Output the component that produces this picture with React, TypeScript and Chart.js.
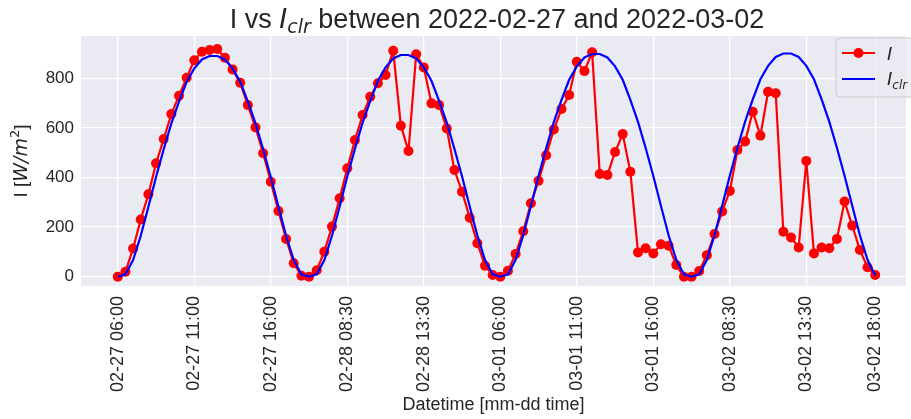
import React, { useEffect, useRef } from 'react';
import { Chart, registerables } from 'chart.js';
Chart.register(...registerables);

const W = 911;
const H = 419;

// Tick positions (sample index) and their labels
const tickIdx = [0, 10, 20, 30, 40, 50, 60, 70, 80, 90, 99];
const tickLabels = [
  '02-27 06:00', '02-27 11:00', '02-27 16:00', '02-28 08:30', '02-28 13:30',
  '03-01 06:00', '03-01 11:00', '03-01 16:00', '03-02 08:30', '03-02 13:30', '03-02 18:00',
];
const yTicks = [0, 200, 400, 600, 800];

// Measured irradiance I (W/m2), 30-min samples 06:00-18:00 each day
const measuredDay1 = [0, 20, 114, 231, 332, 457, 555, 656, 730, 802, 873, 907, 914, 918, 883, 836, 782, 692, 602, 498, 383, 265, 152, 54, 4];
const measuredDay2 = [0, 26, 101, 202, 316, 437, 551, 652, 726, 780, 813, 911, 609, 507, 897, 844, 699, 692, 598, 430, 343, 238, 135, 44, 7];
const measuredDay3 = [0, 24, 92, 183, 296, 387, 490, 594, 676, 733, 867, 829, 905, 414, 410, 503, 575, 423, 98, 115, 94, 131, 125, 47, 0];
const measuredDay4 = [0, 23, 87, 172, 263, 346, 511, 545, 665, 569, 746, 740, 181, 158, 118, 467, 94, 118, 115, 152, 303, 206, 108, 38, 7];

// Clear-sky irradiance I_clr (W/m2)
const clearDay1 = [0, 10, 67, 165, 282, 402, 514, 618, 706, 786, 840, 876, 890, 890, 876, 840, 786, 706, 618, 514, 402, 282, 165, 67, 10];
const clearDay2 = [0, 10, 67, 166, 283, 404, 516, 621, 709, 790, 844, 880, 894, 894, 880, 844, 790, 709, 621, 516, 404, 283, 166, 67, 10];
const clearDay3 = [0, 10, 68, 167, 285, 406, 519, 624, 713, 794, 848, 884, 898, 898, 884, 848, 794, 713, 624, 519, 406, 285, 167, 68, 10];
const clearDay4 = [0, 10, 68, 167, 286, 407, 520, 625, 715, 796, 850, 886, 900, 900, 886, 850, 796, 715, 625, 520, 407, 286, 167, 68, 5];

const measured = [...measuredDay1, ...measuredDay2, ...measuredDay3, ...measuredDay4];
const clearSky = [...clearDay1, ...clearDay2, ...clearDay3, ...clearDay4];

const SANS = '"Liberation Sans", Arial, sans-serif';
const MATH = '"DejaVu Sans", sans-serif';
const TEXT = '#262626';

type Seg = { t: string; f: string; dy?: number };

function richWidth(ctx: CanvasRenderingContext2D, segs: Seg[]) {
  let w = 0;
  for (const s of segs) {
    ctx.font = s.f;
    w += ctx.measureText(s.t).width;
  }
  return w;
}

function drawRich(ctx: CanvasRenderingContext2D, segs: Seg[], x: number, y: number, align: 'left' | 'center') {
  const w = richWidth(ctx, segs);
  let cx = align === 'center' ? x - w / 2 : x;
  ctx.textAlign = 'left';
  ctx.textBaseline = 'alphabetic';
  for (const s of segs) {
    ctx.font = s.f;
    ctx.fillText(s.t, cx, y + (s.dy || 0));
    cx += ctx.measureText(s.t).width;
  }
}

const decor = {
  id: 'decor',
  beforeDraw(chart: any) {
    const { ctx, chartArea } = chart;
    ctx.save();
    ctx.fillStyle = '#EAEAF2';
    ctx.fillRect(chartArea.left, chartArea.top, chartArea.right - chartArea.left, chartArea.bottom - chartArea.top);
    ctx.restore();
  },
  afterDraw(chart: any) {
    const { ctx, chartArea } = chart;
    const xs = chart.scales.x;
    ctx.save();
    ctx.fillStyle = TEXT;
    // Title
    const cx = xs.getPixelForValue(49.57);
    drawRich(ctx, [
      { t: 'I vs ', f: `27px ${SANS}` },
      { t: 'I', f: `italic 27px ${MATH}` },
      { t: 'clr', f: `italic 19px ${MATH}`, dy: 5 },
      { t: ' between 2022-02-27 and 2022-03-02', f: `27px ${SANS}` },
    ], cx, 28, 'center');

    // Y axis label
    ctx.save();
    ctx.translate(27, (chartArea.top + chartArea.bottom) / 2);
    ctx.rotate(-Math.PI / 2);
    drawRich(ctx, [
      { t: 'I [', f: `19px ${SANS}` },
      { t: 'W/m', f: `italic 19px ${MATH}` },
      { t: '2', f: `13px ${MATH}`, dy: -8 },
      { t: ']', f: `19px ${SANS}` },
    ], 0, 0, 'center');
    ctx.restore();

    // Legend
    const lx = 836, ly = 38, lw = 100, lh = 59;
    ctx.beginPath();
    const r = 4;
    ctx.moveTo(lx + r, ly);
    ctx.lineTo(lx + lw - r, ly);
    ctx.arcTo(lx + lw, ly, lx + lw, ly + r, r);
    ctx.lineTo(lx + lw, ly + lh - r);
    ctx.arcTo(lx + lw, ly + lh, lx + lw - r, ly + lh, r);
    ctx.lineTo(lx + r, ly + lh);
    ctx.arcTo(lx, ly + lh, lx, ly + lh - r, r);
    ctx.lineTo(lx, ly + r);
    ctx.arcTo(lx, ly, lx + r, ly, r);
    ctx.closePath();
    ctx.fillStyle = 'rgba(234,234,242,0.8)';
    ctx.fill();
    ctx.strokeStyle = '#CCCCCC';
    ctx.lineWidth = 1;
    ctx.stroke();

    // Item 1
    ctx.strokeStyle = '#FF0000';
    ctx.lineWidth = 2;
    ctx.beginPath();
    ctx.moveTo(842, 53);
    ctx.lineTo(875, 53);
    ctx.stroke();
    ctx.fillStyle = '#FF0000';
    ctx.beginPath();
    ctx.arc(858.5, 53, 5, 0, Math.PI * 2);
    ctx.fill();
    ctx.fillStyle = TEXT;
    drawRich(ctx, [{ t: 'I', f: `italic 18px ${MATH}` }], 887, 60, 'left');

    // Item 2
    ctx.strokeStyle = '#0000FF';
    ctx.beginPath();
    ctx.moveTo(842, 79);
    ctx.lineTo(875, 79);
    ctx.stroke();
    ctx.fillStyle = TEXT;
    drawRich(ctx, [
      { t: 'I', f: `italic 18px ${MATH}` },
      { t: 'clr', f: `italic 12px ${MATH}`, dy: 4 },
    ], 887, 85, 'left');
    ctx.restore();
  },
};

export default function App() {
  const ref = useRef<HTMLCanvasElement>(null);
  useEffect(() => {
    const chart = new Chart(ref.current!, {
      type: 'line',
      data: {
        datasets: [
          {
            label: 'I_clr',
            data: clearSky.map((v, i) => ({ x: i, y: v })),
            borderColor: '#0000FF',
            backgroundColor: '#0000FF',
            borderWidth: 2.2,
            pointRadius: 0,
            tension: 0,
            order: 0,
          },
          {
            label: 'I',
            data: measured.map((v, i) => ({ x: i, y: v })),
            borderColor: '#FF0000',
            backgroundColor: '#FF0000',
            borderWidth: 2.2,
            pointRadius: 5,
            pointBorderWidth: 0,
            pointBackgroundColor: '#FF0000',
            tension: 0,
            order: 1,
          },
        ],
      },
      options: {
        responsive: false,
        animation: false,
        devicePixelRatio: 1,
        layout: { padding: { top: 36, left: 0, right: 0, bottom: 0 } },
        plugins: {
          legend: { display: false },
          tooltip: { enabled: false },
          title: { display: false },
        },
        scales: {
          x: {
            type: 'linear',
            min: -4.81,
            max: 103.03,
            afterFit: (s: any) => { s.height = H - 286; },
            afterBuildTicks: (s: any) => { s.ticks = tickIdx.map((v) => ({ value: v })); },
            ticks: {
              autoSkip: false,
              minRotation: 90,
              maxRotation: 90,
              padding: 10,
              color: TEXT,
              font: { family: SANS, size: 18 },
              callback: (v: any) => {
                const k = tickIdx.indexOf(Number(v));
                return k >= 0 ? tickLabels[k] : '';
              },
            },
            grid: { color: '#FFFFFF', lineWidth: 1.25, drawTicks: false },
            border: { display: false },
            title: {
              display: true,
              text: 'Datetime [mm-dd time]',
              color: TEXT,
              font: { family: SANS, size: 18 },
              padding: { top: 0, bottom: 3 },
            },
          },
          y: {
            min: -37.5,
            max: 970.6,
            afterFit: (s: any) => { s.width = 81; },
            afterBuildTicks: (s: any) => { s.ticks = yTicks.map((v) => ({ value: v })); },
            ticks: {
              padding: 7,
              color: TEXT,
              font: { family: SANS, size: 17 },
            },
            grid: { color: '#FFFFFF', lineWidth: 1.25, drawTicks: false },
            border: { display: false },
          },
        },
      },
      plugins: [decor],
    } as any);
    return () => chart.destroy();
  }, []);
  return (
    <div style={{ position: 'absolute', left: 0, top: 0, width: W, height: H, background: '#FFFFFF' }}>
      <canvas ref={ref} width={W} height={H} style={{ display: 'block', width: W, height: H }} />
    </div>
  );
}
